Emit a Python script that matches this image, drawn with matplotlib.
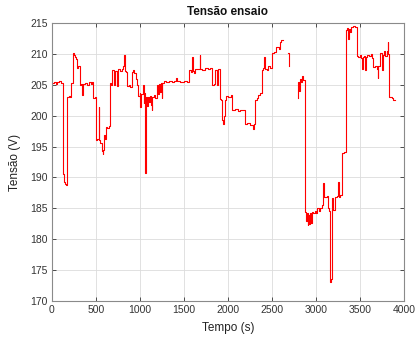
#%% Load packages
import numpy as np
import matplotlib
matplotlib.use("Agg")
import matplotlib.pyplot as plt

#%% Data (value holds until the next time)
nan = np.nan

tempo_s = [0, 20, 40, 60, 80, 100, 125, 135, 150, 160, 170, 190, 205, 216, 238, 250, 262, 275, 284, 300,
           318, 335, 343, 350, 380, 400, 420, 440, 455, 470, 485, 496, 515, 530, 538, 550, 565, 575, 585, 592,
           600, 614, 630, 645, 660, 675, 685, 700, 710, 720, 735, 748, 770, 790, 805, 815, 825, 840, 856, 870,
           890, 905, 920, 935, 950, 962, 980, 995, 1005, 1015, 1030, 1040, 1050, 1062, 1068, 1078, 1090, 1100, 1112, 1125,
           1135, 1142, 1160, 1175, 1195, 1205, 1215, 1230, 1240, 1246, 1252, 1270, 1300, 1330, 1360, 1390, 1410, 1425, 1460, 1500,
           1530, 1557, 1575, 1590, 1598, 1615, 1630, 1660, 1678, 1686, 1710, 1740, 1770, 1800, 1815, 1840, 1850, 1870, 1888, 1905,
           1920, 1930, 1945, 1958, 1966, 1978, 2000, 2030, 2048, 2080, 2110, 2140, 2170, 2193, 2220, 2250, 2285, 2295, 2310, 2330,
           2345, 2365, 2383, 2400, 2410, 2418, 2440, 2460, 2480, 2500, 2520, 2550, 2575, 2590, 2605, 2620, 2685, 2690, 2697, 2792,
           2800, 2812, 2818, 2830, 2840, 2850, 2875, 2886, 2895, 2905, 2915, 2925, 2935, 2945, 2955, 2970, 2985, 3000, 3015, 3030,
           3045, 3064, 3080, 3095, 3120, 3135, 3150, 3160, 3175, 3186, 3197, 3220, 3240, 3250, 3258, 3275, 3300, 3320, 3340, 3350,
           3360, 3370, 3386, 3398, 3420, 3440, 3462, 3480, 3500, 3511, 3525, 3535, 3545, 3556, 3565, 3580, 3600, 3620, 3640, 3651,
           3670, 3690, 3700, 3710, 3727, 3745, 3756, 3765, 3776, 3790, 3805, 3814, 3824, 3830, 3860, 3880, 3900]

tensao_v = [205.3, 205.5, 205.2, 205.4, 205.6, 205.3, 190.5, 189.3, 189.0, 188.8, 203.0, 203.2, 203.0, 205.3, 210.1, 209.8, 209.5, 209.2, 207.7, 208.0,
            205.0, 205.2, 203.4, 205.1, 205.3, 205.0, 205.4, 205.2, 205.5, 202.9, 203.0, 196.1, 196.3, 201.4, 196.0, 195.6, 194.3, 193.8, 194.5, 196.8,
            196.2, 198.2, 198.0, 198.3, 205.3, 205.0, 207.4, 207.0, 205.0, 207.2, 204.8, 207.5, 207.2, 207.6, 208.0, 209.8, 207.2, 207.0, 204.8, 205.0,
            204.7, 207.1, 207.4, 206.9, 206.0, 205.0, 203.2, 203.6, 201.4, 203.5, 205.0, 202.0, 203.6, 190.7, 203.0, 201.5, 203.0, 202.2, 203.2, 201.8,
            200.9, 203.0, 203.3, 202.8, 205.0, 203.5, 205.2, 203.8, 205.3, 202.9, 205.3, 205.6, 205.4, 205.6, 205.5, 205.7, 206.1, 205.6, 205.5, 205.6,
            205.4, 207.4, 207.0, 209.5, 207.2, 206.9, 207.5, 207.6, 209.8, 207.6, 207.4, 207.8, 207.5, 207.7, 205.0, 205.2, 207.4, 205.0, 207.5, 202.7,
            202.5, 199.3, 198.6, 200.0, 202.5, 203.2, 203.0, 203.3, 200.9, 201.1, 200.8, 201.0, 200.9, 198.6, 198.8, 198.5, 197.9, 198.6, 202.5, 202.8,
            203.3, 203.6, 207.4, 207.8, 209.5, 207.5, 207.4, 208.0, 207.8, 210.1, 210.3, 211.1, 210.8, 211.9, 212.3, nan, 210.1, 208.0, nan, 202.9,
            205.5, 204.0, 206.0, 205.5, 206.5, 205.8, 184.4, 183.0, 184.2, 182.3, 184.0, 182.5, 184.3, 182.6, 184.4, 184.2, 184.6, 184.2, 185.0, 184.6,
            185.1, 185.5, 189.1, 186.8, 187.0, 185.1, 184.6, 173.1, 173.5, 186.7, 184.7, 186.8, 187.0, 189.3, 186.8, 187.1, 194.0, 194.2, 213.9, 214.2,
            212.5, 214.0, 213.5, 214.4, 214.6, 214.3, 209.7, 209.5, 209.8, 209.3, 207.6, 209.5, 209.7, 207.4, 209.5, 209.8, 209.6, 210.0, 209.4, 207.9,
            208.1, 207.5, 206.1, 208.0, 210.1, 209.5, 207.4, 209.8, 210.5, 209.6, 210.4, 211.9, 210.0, 203.0, 202.8, 202.5, 202.5]

x_ticks = [0, 500, 1000, 1500, 2000, 2500, 3000, 3500, 4000]
y_ticks = [170, 175, 180, 185, 190, 195, 200, 205, 210, 215]

#%% Plot (MATLAB-like look)
plt.rcParams["font.family"] = ["Liberation Sans", "DejaVu Sans"]

fig = plt.figure(figsize=(4.17, 3.41), dpi=100)
ax = fig.add_axes([0.1247, 0.1173, 0.844, 0.815])

ax.plot(tempo_s, tensao_v, color="#ff0000", linewidth=0.8, drawstyle="steps-post")

ax.set_xlim(0, 4000)
ax.set_ylim(170, 215)
ax.set_xticks(x_ticks)
ax.set_yticks(y_ticks)

ax.grid(True, color="#dcdcdc", linewidth=0.6)
ax.set_axisbelow(True)
ax.tick_params(direction="in", top=True, right=True, length=3, width=0.6,
               labelsize=7.5, colors="#333333", pad=3)
for s in ax.spines.values():
    s.set_color("#8a8a8a")
    s.set_linewidth(0.8)

ax.set_title("Tensão ensaio", fontsize=8.5, fontweight="bold", color="#111111", pad=6)
ax.set_xlabel("Tempo (s)", fontsize=8.5, color="#222222", labelpad=5)
ax.set_ylabel("Tensão (V)", fontsize=8.5, color="#222222", labelpad=7)

fig.savefig("out.png", dpi=100, facecolor="white")
